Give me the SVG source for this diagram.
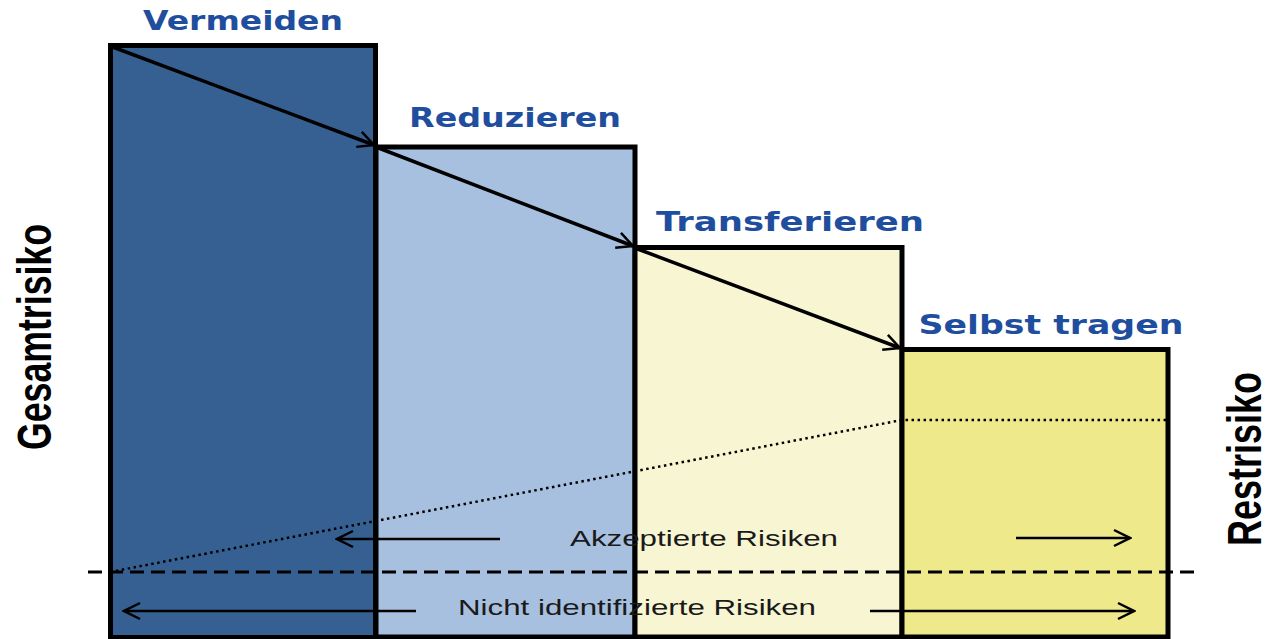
<svg xmlns="http://www.w3.org/2000/svg" width="1272" height="639" viewBox="0 0 1272 639">
<style>
.bar{stroke:#000;stroke-width:5;stroke-linejoin:miter}
.title{font-family:"DejaVu Sans",Verdana,sans-serif;font-weight:bold;font-size:27px;fill:#1F4E9E;text-anchor:middle}
.axis{font-family:"Liberation Sans Narrow","Liberation Sans",Arial,sans-serif;font-weight:bold;font-size:48px;fill:#000;text-anchor:middle}
.note{font-family:"Liberation Sans",Arial,sans-serif;font-size:22px;fill:#1a1a1a;text-anchor:middle}
.arr{stroke:#000;stroke-width:2.5;fill:none}
.step{stroke:#000;stroke-width:3.5;fill:none}
</style>
<defs>
<marker id="open" viewBox="0 0 20 20" refX="18" refY="10" markerWidth="20" markerHeight="20" markerUnits="userSpaceOnUse" orient="auto">
<path d="M2,2 L18,10 L2,18" fill="none" stroke="#000" stroke-width="2.5"/>
</marker>
</defs>
<rect width="1272" height="639" fill="#fff"/>
<g id="vermeiden">
<rect class="bar" x="110.5" y="45.5" width="265" height="592" fill="#376092"/>
<text class="title" x="243" y="30" textLength="200" lengthAdjust="spacingAndGlyphs">Vermeiden</text>
</g>
<g id="reduzieren">
<rect class="bar" x="376" y="147" width="259" height="490" fill="#A7C0DF"/>
<text class="title" x="515" y="127" textLength="212" lengthAdjust="spacingAndGlyphs">Reduzieren</text>
</g>
<g id="transferieren">
<rect class="bar" x="635" y="247.5" width="267" height="389.5" fill="#F8F6D2"/>
<text class="title" x="790" y="231" textLength="268" lengthAdjust="spacingAndGlyphs">Transferieren</text>
</g>
<g id="selbst-tragen">
<rect class="bar" x="902" y="349.5" width="266" height="287.5" fill="#EEE98A"/>
<text class="title" x="1051" y="334" textLength="265" lengthAdjust="spacingAndGlyphs">Selbst tragen</text>
</g>
<g id="connectors">
<line class="step" x1="110" y1="46" x2="374" y2="145" marker-end="url(#open)"/>
<line class="step" x1="376" y1="147" x2="633" y2="246" marker-end="url(#open)"/>
<line class="step" x1="635" y1="248" x2="900" y2="348" marker-end="url(#open)"/>
<polyline points="110,572 902,420 1168,420" fill="none" stroke="#000" stroke-width="2.5" stroke-dasharray="2.5,3.5"/>
<line x1="88" y1="572" x2="1195" y2="572" stroke="#000" stroke-width="3" stroke-dasharray="14,7"/>
<line class="arr" x1="500" y1="539" x2="337" y2="539" marker-end="url(#open)"/>
<line class="arr" x1="1016" y1="538" x2="1130" y2="538" marker-end="url(#open)"/>
<line class="arr" x1="416" y1="611" x2="124" y2="611" marker-end="url(#open)"/>
<line class="arr" x1="870" y1="611" x2="1134" y2="611" marker-end="url(#open)"/>
</g>
<g id="labels">
<text class="note" x="704" y="546" textLength="268" lengthAdjust="spacingAndGlyphs">Akzeptierte Risiken</text>
<text class="note" x="637" y="615" textLength="358" lengthAdjust="spacingAndGlyphs">Nicht identifizierte Risiken</text>
<text class="axis" transform="translate(51,337) rotate(-90)" textLength="226" lengthAdjust="spacingAndGlyphs">Gesamtrisiko</text>
<text class="axis" transform="translate(1261,459) rotate(-90)" textLength="174" lengthAdjust="spacingAndGlyphs">Restrisiko</text>
</g>
</svg>
